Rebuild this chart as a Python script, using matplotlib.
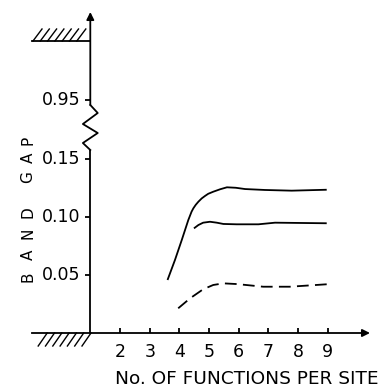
import matplotlib
matplotlib.use("Agg")
import matplotlib.pyplot as plt
from matplotlib.patches import FancyArrowPatch

plt.rcParams['font.family'] = ['DejaVu Sans']

# ---- data ----
x_upper = [3.60, 3.85, 4.08, 4.19, 4.30, 4.41, 4.47, 4.55, 4.64, 4.75, 4.86, 4.97,
           5.14, 5.37, 5.60, 5.90, 6.21, 6.88, 7.78, 8.96]
y_upper = [0.0457, 0.0629, 0.0802, 0.0888, 0.0974, 0.1046, 0.1075, 0.1105, 0.1132, 0.1160,
           0.1181, 0.1200, 0.1218, 0.1239, 0.1256, 0.1252, 0.1241, 0.1233, 0.1227, 0.1235]

x_middle = [4.49, 4.64, 4.80, 5.03, 5.26, 5.48, 5.93, 6.66, 7.22, 8.96]
y_middle = [0.0902, 0.0931, 0.0951, 0.0959, 0.0951, 0.0940, 0.0937, 0.0937, 0.0951, 0.0946]

x_dashed = [3.96, 4.36, 4.80, 5.14, 5.48, 5.93, 6.82, 7.72, 8.96]
y_dashed = [0.0213, 0.0299, 0.0377, 0.0414, 0.0428, 0.0422, 0.0399, 0.0399, 0.0420]

x_ticks = [2, 3, 4, 5, 6, 7, 8, 9]
y_ticks = [0.05, 0.10, 0.15]
y_tick_labels = ["0.05", "0.10", "0.15"]
break_label = "0.95"
x_label = "No. OF FUNCTIONS PER SITE"
y_label_words = ["BAND", "GAP"]

# ---- layout (pixel based) ----
W, H = 385, 390
fig = plt.figure(figsize=(W / 100, H / 100), dpi=100)
px_x0, px_y0 = 90.3, 333.0      # origin pixel (x=1, y=0)
px_unit_x = 29.7                # pixels per function
px_unit_y = 58.0 / 0.05         # pixels per unit gap
px_xmax, px_ymax = 370.0, 12.0
xmax = 1 + (px_xmax - px_x0) / px_unit_x
ymax = (px_y0 - px_ymax) / px_unit_y

ax = fig.add_axes([px_x0 / W, (H - px_y0) / H, (px_xmax - px_x0) / W, (px_y0 - px_ymax) / H])
ax.set_xlim(1, xmax)
ax.set_ylim(0, ymax)
ax.axis('off')

def py(pix):  # pixel row -> data y
    return (px_y0 - pix) / px_unit_y

def px(pix):  # pixel col -> data x
    return 1 + (pix - px_x0) / px_unit_x

lw = 1.3
kw = dict(color='black', lw=lw, clip_on=False, solid_capstyle='butt', solid_joinstyle='round')

# curves
ax.plot(x_upper, y_upper, **kw)
ax.plot(x_middle, y_middle, **kw)
ax.plot(x_dashed, y_dashed, color='black', lw=lw, clip_on=False, dashes=(6.5, 3.5))

# x axis with arrow
ax.add_patch(FancyArrowPatch((1, 0), (xmax, 0), arrowstyle='-|>', mutation_scale=11,
                             color='black', lw=lw, clip_on=False, shrinkA=0, shrinkB=0))
# y axis: lower part, zigzag break, upper part with arrow
zig_top, zig_bot = py(105), py(150)
ax.plot([1, 1], [0, zig_bot], **kw)
zx = [0, -0.25, 0.25, -0.25, 0.25, 0]
zy_pix = [150, 143, 133, 124, 113, 105]
ax.plot([1 + v for v in zx], [py(p) for p in zy_pix], color='black', lw=lw, clip_on=False)
ax.add_patch(FancyArrowPatch((1, zig_top), (1, ymax), arrowstyle='-|>', mutation_scale=11,
                             color='black', lw=lw, clip_on=False, shrinkA=0, shrinkB=0))

# x ticks (pointing up) and labels
for t in x_ticks:
    ax.plot([t, t], [0, py(328)], **kw)
    ax.text(t, py(343), str(t), ha='center', va='top', fontsize=12.5)

# y ticks (pointing left) and labels
tick_len = 5 / px_unit_x
for t, lab in zip(y_ticks, y_tick_labels):
    ax.plot([1 - tick_len, 1], [t, t], **kw)
    ax.text(1 - 10 / px_unit_x, t, lab, ha='right', va='center', fontsize=12.5)
y95 = py(100)
ax.plot([1 - tick_len, 1], [y95, y95], **kw)
ax.text(1 - 10 / px_unit_x, y95, break_label, ha='right', va='center', fontsize=12.5)

# hatched walls
def wall(pix_line, up):
    yl = py(pix_line)
    ax.plot([px(32), 1], [yl, yl], color='black', lw=lw, clip_on=False)
    step = 7.3
    if up:
        p = 33
        while p + 9 <= 92:
            ax.plot([px(p), px(p + 9)], [py(pix_line), py(pix_line - 12)], color='black', lw=1.0, clip_on=False)
            p += step
    else:
        p = 91
        while p - 9 >= 31:
            ax.plot([px(p - 9), px(p)], [py(pix_line + 13), py(pix_line)], color='black', lw=1.0, clip_on=False)
            p -= step

wall(41, True)
wall(333, False)

# axis labels
fig.text(115 / W, 1 - 379 / H, x_label, ha='left', va='center', fontsize=13.3)

# y label: letter-spaced, rotated
letter_centres = {"BAND": [277, 255, 233, 212], "GAP": [177, 158, 140]}
for word in y_label_words:
    for ch, yc in zip(word, letter_centres[word]):
        fig.text(28 / W, 1 - yc / H, ch, ha='center', va='center', rotation=90, fontsize=11)

fig.savefig("out.png", dpi=100)
